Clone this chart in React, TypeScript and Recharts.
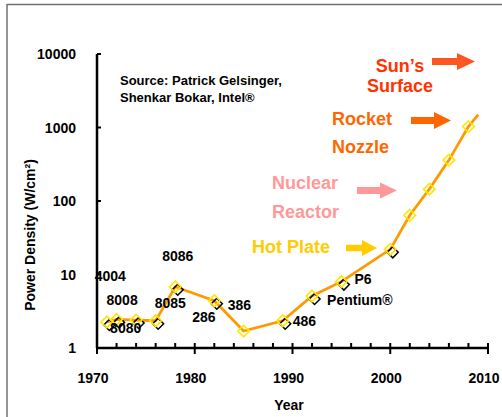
import { LineChart, Line, XAxis, YAxis, LabelList } from 'recharts';

const years = [1971, 1972, 1974, 1976, 1978, 1982, 1985, 1989, 1992, 1995, 2000, 2002, 2004, 2006, 2008, 2009];
const powerDensity = [2.26, 2.45, 2.4, 2.35, 6.8, 4.4, 1.7, 2.35, 5.1, 8, 22, 64, 145, 360, 1030, 1500];
const chipNames = ['4004', '8008', '8080', '8085', '8086', '286', '386', '486', 'Pentium®', 'P6', '', '', '', '', '', ''];
const shadowYears = [1971, 1972, 1974, 1976, 1978, 1982, 1989, 1992, 1995, 2000];
const xTicks = [1970, 1972, 1974, 1976, 1978, 1980, 1982, 1984, 1986, 1988, 1990, 1992, 1994, 1996, 1998, 2000, 2002, 2004, 2006, 2008, 2010];
const yTicks = [1, 10, 100, 1000, 10000];

const data = years.map((year, i) => ({
  year,
  power: powerDensity[i],
  shadow: shadowYears.includes(year) ? powerDensity[i] : null,
  name: chipNames[i],
}));

const FONT = '"Liberation Sans", Arial, sans-serif';

// label placement relative to the point (dx = left edge, dy = text middle)
const LABEL_OFFSET: Record<string, [number, number]> = {
  '4004': [-12, -46],
  '8008': [-10, -19],
  '8080': [-26, 8],
  '8085': [-1, -18],
  '8086': [-13, -31],
  '286': [-22, 16],
  '386': [-16, -26],
  '486': [10, 0],
  'Pentium®': [15, 4],
  'P6': [13, -3],
};

const diamond = (x: number, y: number, r: number) =>
  `M${x},${y - r} L${x + r},${y} L${x},${y + r} L${x - r},${y} Z`;

const XTick = (props: any) => {
  const { x, y, payload } = props;
  const major = payload.value % 10 === 0;
  return (
    <g>
      <line x1={x} x2={x} y1={y - 5} y2={major ? y + 6 : y} stroke="#000" strokeWidth={2} />
      {major && (
        <text x={x - 4} y={y + 35} textAnchor="middle" fontFamily={FONT} fontWeight="bold" fontSize={14} fill="#000">
          {payload.value}
        </text>
      )}
    </g>
  );
};

const YTick = (props: any) => {
  const { x, y, payload } = props;
  return (
    <g>
      <line x1={x} x2={x + 4} y1={y} y2={y} stroke="#000" strokeWidth={2} />
      <text x={x - 21} y={y + 5} textAnchor="end" fontFamily={FONT} fontWeight="bold" fontSize={14} fill="#000">
        {payload.value}
      </text>
    </g>
  );
};

const ChipLabel = (props: any) => {
  const { x, y, value } = props;
  const off = LABEL_OFFSET[value];
  if (!value || !off) return null;
  return (
    <text x={x + off[0]} y={y + off[1] + 5} fontFamily={FONT} fontWeight="bold" fontSize={14} fill="#000">
      {value}
    </text>
  );
};

const arrow = (x0: number, x1: number, y: number, body: number, head: number, headLen: number) => {
  const hx = x1 - headLen;
  return `${x0},${y - body / 2} ${hx},${y - body / 2} ${hx},${y - head / 2} ${x1},${y} ${hx},${y + head / 2} ${hx},${y + body / 2} ${x0},${y + body / 2}`;
};

const annot = { fontFamily: FONT, fontWeight: 'bold' as const, fontSize: 18 };

export default function App() {
  return (
    <div style={{ position: 'absolute', left: 0, top: 0, width: 502, height: 417, background: '#fff' }}>
      <LineChart width={502} height={417} data={data} margin={{ top: 54, right: 14, bottom: 39, left: 37 }}>
        <XAxis
          dataKey="year"
          type="number"
          domain={[1970, 2010]}
          ticks={xTicks}
          interval={0}
          height={30}
          tickSize={0}
          tickMargin={0}
          tick={<XTick />}
          axisLine={{ stroke: '#000', strokeWidth: 2.5 }}
        />
        <XAxis xAxisId="top" orientation="top" type="number" domain={[1970, 2010]} height={0} tick={false} tickLine={false} axisLine={{ stroke: '#000', strokeWidth: 2.5 }} />
        <YAxis
          type="number"
          scale="log"
          domain={[1, 10000]}
          ticks={yTicks}
          interval={0}
          width={60}
          tickSize={0}
          tickMargin={0}
          tick={<YTick />}
          axisLine={{ stroke: '#000', strokeWidth: 2.5 }}
        />
        <YAxis yAxisId="right" orientation="right" type="number" domain={[0, 1]} width={0} tick={false} tickLine={false} axisLine={{ stroke: '#000', strokeWidth: 2.5 }} />
        <Line dataKey="power" stroke="none" dot={false} activeDot={false} isAnimationActive={false}>
          <LabelList dataKey="name" content={<ChipLabel />} />
        </Line>
        <Line
          dataKey="shadow"
          stroke="none"
          activeDot={false}
          isAnimationActive={false}
          dot={(p: any) =>
            p.cy == null || p.value == null ? (
              <g key={`s-${p.index}`} />
            ) : (
              <path key={`s-${p.index}`} d={diamond(p.cx + 2.5, p.cy + 3, 5.5)} fill="none" stroke="#000" strokeWidth={1.5} />
            )
          }
        />
        <Line
          dataKey="power"
          stroke="#FF9900"
          strokeWidth={2.75}
          activeDot={false}
          isAnimationActive={false}
          dot={(p: any) =>
            p.index === years.length - 1 ? (
              <g key={`d-${p.index}`} />
            ) : (
              <path key={`d-${p.index}`} d={diamond(p.cx, p.cy, 5.8)} fill="none" stroke="#FFE600" strokeWidth={1.6} />
            )
          }
        />
      </LineChart>
      <svg width={502} height={417} style={{ position: 'absolute', left: 0, top: 0, pointerEvents: 'none' }}>
        <line x1={7} y1={4.5} x2={502} y2={4.5} stroke="#707070" strokeWidth={1.5} />
        <line x1={7} y1={4} x2={7} y2={417} stroke="#707070" strokeWidth={1.5} />
        <text x={120} y={85} fontFamily={FONT} fontWeight="bold" fontSize={13} fill="#000">Source: Patrick Gelsinger,</text>
        <text x={120} y={102} fontFamily={FONT} fontWeight="bold" fontSize={13} fill="#000">Shenkar Bokar, Intel®</text>
        <text x={400} y={72} textAnchor="middle" {...annot} fill="#FF3300">Sun’s</text>
        <text x={400} y={92} textAnchor="middle" {...annot} fill="#FF3300">Surface</text>
        <polygon points={arrow(432, 475, 61.5, 7, 17, 18)} fill="#FF5522" />
        <text x={332} y={125} {...annot} fill="#FF6600">Rocket</text>
        <text x={332} y={153} {...annot} fill="#FF6600">Nozzle</text>
        <polygon points={arrow(411, 451, 120.5, 7, 17, 17)} fill="#FF6600" />
        <text x={272} y={189} {...annot} fill="#FF9999">Nuclear</text>
        <text x={272} y={218} {...annot} fill="#FF9999">Reactor</text>
        <polygon points={arrow(357, 397, 190.5, 7, 16, 17)} fill="#FF9999" />
        <text x={252} y={253} {...annot} fill="#FFCC00">Hot Plate</text>
        <polygon points={arrow(346, 377, 248, 6.5, 16, 15)} fill="#FFCC00" />
        <text x={289} y={410} textAnchor="middle" fontFamily={FONT} fontWeight="bold" fontSize={14} fill="#000">Year</text>
        <text
          x={30}
          y={235}
          transform="rotate(-90 30 235)"
          textAnchor="middle"
          dominantBaseline="central"
          fontFamily={FONT}
          fontWeight="bold"
          fontSize={14}
          fill="#000"
        >
          Power Density (W/cm²)
        </text>
      </svg>
    </div>
  );
}
